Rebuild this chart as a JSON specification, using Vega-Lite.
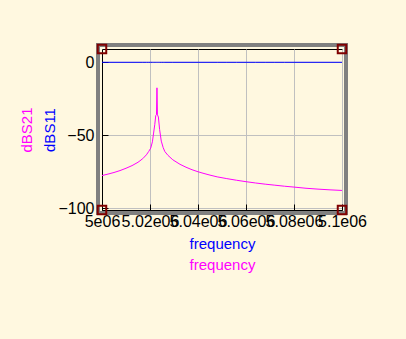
{
  "$schema": "https://vega.github.io/schema/vega-lite/v6.json",
  "autosize": "none",
  "width": 240,
  "height": 161,
  "padding": {"left": 102, "top": 49, "right": 64, "bottom": 129},
  "background": "#FFF8E0",
  "config": {
    "view": {"stroke": "#000000", "strokeWidth": 1},
    "font": "Liberation Sans"
  },
  "data": {
    "values": [
      {"f": 5000000, "s21": -77.6, "s11": 0},
      {"f": 5002500, "s21": -76.6, "s11": 0},
      {"f": 5005000, "s21": -75.5, "s11": 0},
      {"f": 5007500, "s21": -74.2, "s11": 0},
      {"f": 5010000, "s21": -72.6, "s11": 0},
      {"f": 5012500, "s21": -70.8, "s11": 0},
      {"f": 5015000, "s21": -68.5, "s11": 0},
      {"f": 5017000, "s21": -66.0, "s11": 0},
      {"f": 5018500, "s21": -63.4, "s11": 0},
      {"f": 5019500, "s21": -61.0, "s11": 0},
      {"f": 5020300, "s21": -58.8, "s11": 0},
      {"f": 5021000, "s21": -54.5, "s11": 0},
      {"f": 5021500, "s21": -48.5, "s11": 0},
      {"f": 5022000, "s21": -42.5, "s11": 0},
      {"f": 5022400, "s21": -36.5, "s11": 0},
      {"f": 5022700, "s21": -36.0, "s11": 0},
      {"f": 5022900, "s21": -17.5, "s11": 0},
      {"f": 5023100, "s21": -36.0, "s11": 0},
      {"f": 5023500, "s21": -37.5, "s11": 0},
      {"f": 5024000, "s21": -46.0, "s11": 0},
      {"f": 5024700, "s21": -54.0, "s11": 0},
      {"f": 5025500, "s21": -58.5, "s11": 0},
      {"f": 5026200, "s21": -61.2, "s11": 0},
      {"f": 5027500, "s21": -63.8, "s11": 0},
      {"f": 5029500, "s21": -66.8, "s11": 0},
      {"f": 5032500, "s21": -69.9, "s11": 0},
      {"f": 5035000, "s21": -71.9, "s11": 0},
      {"f": 5037500, "s21": -73.6, "s11": 0},
      {"f": 5040000, "s21": -75.0, "s11": 0},
      {"f": 5042500, "s21": -76.2, "s11": 0},
      {"f": 5045000, "s21": -77.3, "s11": 0},
      {"f": 5048000, "s21": -78.5, "s11": 0},
      {"f": 5052000, "s21": -79.7, "s11": 0},
      {"f": 5056000, "s21": -80.8, "s11": 0},
      {"f": 5060000, "s21": -81.8, "s11": 0},
      {"f": 5064000, "s21": -82.7, "s11": 0},
      {"f": 5068000, "s21": -83.5, "s11": 0},
      {"f": 5072000, "s21": -84.2, "s11": 0},
      {"f": 5076000, "s21": -84.9, "s11": 0},
      {"f": 5080000, "s21": -85.5, "s11": 0},
      {"f": 5085000, "s21": -86.3, "s11": 0},
      {"f": 5090000, "s21": -86.9, "s11": 0},
      {"f": 5095000, "s21": -87.4, "s11": 0},
      {"f": 5100000, "s21": -87.8, "s11": 0}
    ]
  },
  "resolve": {"axis": {"x": "independent", "y": "independent"}},
  "layer": [
    {
      "data": {"values": [{}]},
      "mark": {"type": "rect", "filled": false, "stroke": "#808080", "strokeWidth": 4, "clip": false},
      "encoding": {
        "x": {"datum": 4998333, "type": "quantitative", "scale": {"domain": [5000000, 5100000], "nice": false, "zero": false}, "axis": null},
        "x2": {"datum": 5101667},
        "y": {"datum": 11.84, "type": "quantitative", "scale": {"domain": [-101.2, 9.1], "nice": false, "zero": false}, "axis": null},
        "y2": {"datum": -103.25}
      }
    },
    {
      "mark": {"type": "line", "color": "#FF00FF", "strokeWidth": 1},
      "encoding": {
        "x": {"field": "f", "type": "quantitative",
          "axis": {"orient": "bottom", "title": "frequency", "titleColor": "#FF00FF", "titleFont": "Liberation Sans", "titleFontSize": 15, "titleFontWeight": "normal", "titlePadding": 47, "labels": false, "ticks": false, "domain": false, "grid": false}},
        "y": {"field": "s21", "type": "quantitative",
          "axis": {"orient": "left", "title": "dBS21", "titleColor": "#FF00FF", "titleFont": "Liberation Sans", "titleFontSize": 15, "titleFontWeight": "normal", "titlePadding": 68, "labels": false, "ticks": false, "domain": false, "grid": false}}
      }
    },
    {
      "mark": {"type": "line", "color": "#0000FF", "strokeWidth": 1},
      "encoding": {
        "x": {"field": "f", "type": "quantitative",
          "axis": {"orient": "bottom", "title": "frequency", "titleColor": "#0000FF", "titleFont": "Liberation Sans", "titleFontSize": 15, "titleFontWeight": "normal", "titlePadding": 7,
            "values": [5000000, 5020000, 5040000, 5060000, 5080000, 5100000],
            "labelExpr": "(datum.value/1000000) + 'e06'",
            "labelOverlap": false, "labelBound": false, "labelFlush": false,
            "labelFont": "Liberation Sans", "labelFontSize": 16, "labelColor": "#000000", "labelPadding": 9,
            "tickSize": -6, "tickColor": "#000000", "domainColor": "#000000",
            "grid": true, "gridColor": "#C0C0C0", "gridOpacity": 1}},
        "y": {"field": "s11", "type": "quantitative",
          "axis": {"orient": "left", "title": "dBS11", "titleColor": "#0000FF", "titleFont": "Liberation Sans", "titleFontSize": 15, "titleFontWeight": "normal", "titlePadding": 0,
            "values": [0, -50, -100],
            "labelOverlap": false, "labelBound": false, "labelFlush": false,
            "labelFont": "Liberation Sans", "labelFontSize": 16, "labelColor": "#000000", "labelPadding": 14,
            "tickSize": -6, "tickColor": "#000000", "domainColor": "#000000",
            "grid": true, "gridColor": "#C0C0C0", "gridOpacity": 1}}
      }
    },
    {
      "data": {"values": [{}]},
      "mark": {"type": "point", "shape": "square", "filled": false, "stroke": "#800000", "strokeWidth": 2, "size": 72, "opacity": 1, "clip": false},
      "encoding": {"x": {"datum": 5000000, "type": "quantitative", "axis": null}, "y": {"datum": 9.1, "type": "quantitative", "axis": null}}
    },
    {
      "data": {"values": [{}]},
      "mark": {"type": "point", "shape": "square", "filled": false, "stroke": "#800000", "strokeWidth": 2, "size": 72, "opacity": 1, "clip": false},
      "encoding": {"x": {"datum": 5100000, "type": "quantitative", "axis": null}, "y": {"datum": 9.1, "type": "quantitative", "axis": null}}
    },
    {
      "data": {"values": [{}]},
      "mark": {"type": "point", "shape": "square", "filled": false, "stroke": "#800000", "strokeWidth": 2, "size": 72, "opacity": 1, "clip": false},
      "encoding": {"x": {"datum": 5000000, "type": "quantitative", "axis": null}, "y": {"datum": -101.2, "type": "quantitative", "axis": null}}
    },
    {
      "data": {"values": [{}]},
      "mark": {"type": "point", "shape": "square", "filled": false, "stroke": "#800000", "strokeWidth": 2, "size": 72, "opacity": 1, "clip": false},
      "encoding": {"x": {"datum": 5100000, "type": "quantitative", "axis": null}, "y": {"datum": -101.2, "type": "quantitative", "axis": null}}
    }
  ]
}
